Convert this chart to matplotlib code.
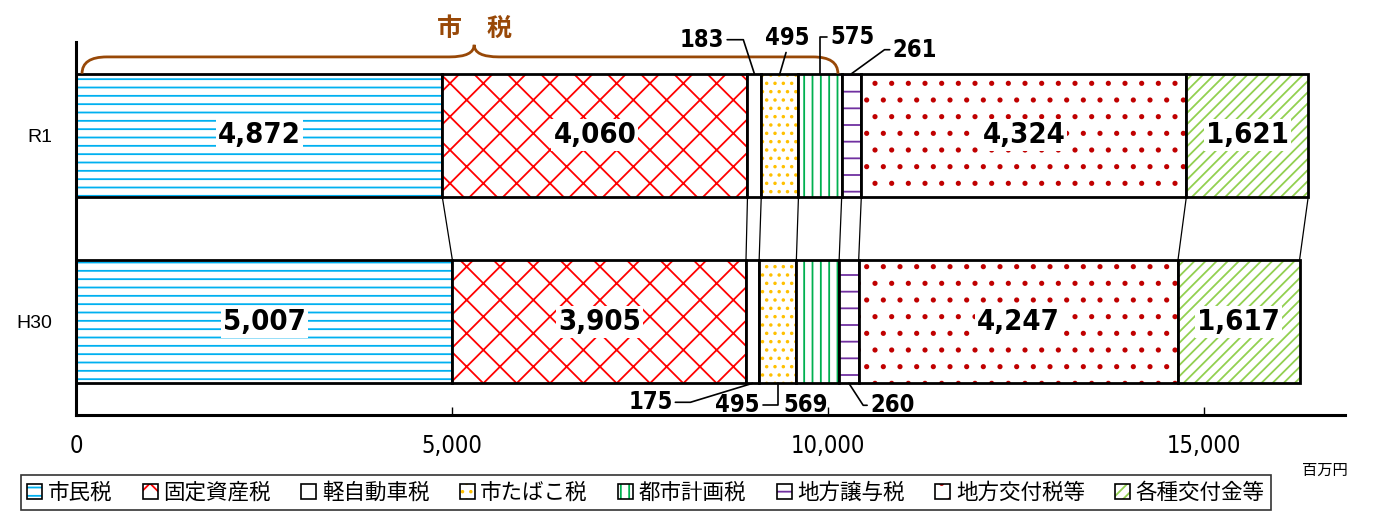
import numpy as np
import matplotlib.pyplot as plt
from matplotlib.path import Path
from matplotlib.patches import PathPatch, Patch

plt.rcParams['font.family'] = ['Noto Sans CJK JP', 'DejaVu Sans']
plt.rcParams['hatch.linewidth'] = 1.3

years = ['H30', 'R1']
items = ['市民税', '固定資産税', '軽自動車税', '市たばこ税', '都市計画税', '地方譲与税', '地方交付税等', '各種交付金等']
h30 = [5007, 3905, 175, 495, 569, 260, 4247, 1617]
r1 = [4872, 4060, 183, 495, 575, 261, 4324, 1621]
city_tax_count = 5  # first five items are 市税

colors = ['#00B0F0', '#FF0000', 'white', '#FFC000', '#00B050', '#7030A0', '#C00000', '#92D050']
hatches = ['--', 'x', '', '..', '||', '-', '.', '///']

numfont = dict(family='DejaVu Sans', fontstretch='condensed')

fig = plt.figure(figsize=(13.75, 5.22), dpi=100)
ax = fig.add_axes([76 / 1375, 1 - 415 / 522, (1345 - 76) / 1375, (415 - 42) / 522])

h = 0.66
rows = {0: h30, 1: r1}
for y, vals in rows.items():
    left = np.concatenate([[0], np.cumsum(vals)[:-1]])
    for i, v in enumerate(vals):
        ax.barh(y, v, left=left[i], height=h, color='white', edgecolor=colors[i],
                hatch=hatches[i], linewidth=0)
        ax.barh(y, v, left=left[i], height=h, fill=False, edgecolor='black', linewidth=2)
        if v > 1000:
            ax.text(left[i] + v / 2, y, f'{v:,}', ha='center', va='center', fontsize=21,
                    fontweight='bold', **numfont,
                    bbox=dict(fc='white', ec='none', pad=1.5))

# series lines between the two bars
cum_r1 = np.cumsum(r1)
cum_h30 = np.cumsum(h30)
for a, b in zip(cum_r1, cum_h30):
    ax.plot([a, b], [1 - h / 2, h / 2], color='black', lw=0.9)

# small labels with leader lines
r1_lbl = {2: ((-30, 34), 'right', (1, 0.5), 'angle,angleA=0,angleB=108,rad=0'),
          3: ((7, 36), 'center', (0.5, 0), 'arc3'),
          4: ((10, 37), 'left', (0, 0.5), 'angle,angleA=180,angleB=90,rad=0'),
          5: ((41, 24), 'left', (0, 0.5), 'angle,angleA=180,angleB=36,rad=0')}
h30_lbl = {2: ((-80, -19), 'right', (1, 0.5), 'angle,angleA=0,angleB=17,rad=0'),
           3: ((-18, -22), 'right', (1, 0.5), 'angle,angleA=0,angleB=90,rad=0'),
           4: ((-12, -22), 'center', None, None),
           5: ((21, -22), 'left', (0, 0.5), 'angle,angleA=180,angleB=-57,rad=0')}

for vals, cum, yy, lbls in [(r1, cum_r1, 1 + h / 2, r1_lbl), (h30, cum_h30, -h / 2, h30_lbl)]:
    for i, (off, ha, rel, cs) in lbls.items():
        mid = cum[i] - vals[i] / 2
        kw = {}
        if cs is not None:
            kw['arrowprops'] = dict(arrowstyle='-', lw=1.2, color='black', shrinkA=0,
                                    shrinkB=0, relpos=rel, connectionstyle=cs)
        ax.annotate(f'{vals[i]:,}', xy=(mid, yy), xytext=off, textcoords='offset pixels',
                    ha=ha, va='center', fontsize=17, fontweight='bold', **numfont,
                    annotation_clip=False, **kw)

# brace for 市税
x0, x1 = 80, cum_r1[city_tax_count - 1] - 50
xm = 0.52 * cum_r1[city_tax_count - 1]
yb, ym, yt = 1 + h / 2, 1.42, 1.485
r = 330
verts = [(x0, yb), (x0, ym), (x0 + r, ym),
         (xm - r, ym),
         (xm, ym), (xm, yt),
         (xm, ym), (xm + r, ym),
         (x1 - r, ym),
         (x1, ym), (x1, yb)]
codes = [Path.MOVETO, Path.CURVE3, Path.CURVE3,
         Path.LINETO,
         Path.CURVE3, Path.CURVE3,
         Path.CURVE3, Path.CURVE3,
         Path.LINETO,
         Path.CURVE3, Path.CURVE3]
ax.add_patch(PathPatch(Path(verts, codes), fill=False, edgecolor='#984807', lw=2, clip_on=False))
ax.text(xm, 1.57, '市\u3000税', ha='center', va='center', fontsize=18, fontweight='bold',
        color='#984807', clip_on=False)

ax.set_xlim(0, 16880)
ax.set_ylim(-0.5, 1.5)
ax.set_yticks([0, 1])
ax.set_yticklabels(years, fontsize=14, family=['Liberation Sans', 'DejaVu Sans'])
ax.tick_params(axis='y', length=0, pad=17)
ax.set_xticks([0, 5000, 10000, 15000])
ax.set_xticklabels([f'{t:,}' for t in [0, 5000, 10000, 15000]], fontsize=17, **numfont)
ax.tick_params(axis='x', direction='in', length=6, width=1, pad=14)
for s in ['top', 'right']:
    ax.spines[s].set_visible(False)
for s in ['left', 'bottom']:
    ax.spines[s].set_linewidth(2.2)

fig.text(1325 / 1375, 1 - 470 / 522, '百万円', ha='center', va='center', fontsize=11)

handles = [(Patch(facecolor='white', edgecolor=colors[i], hatch=hatches[i], lw=0),
            Patch(fill=False, edgecolor='black', lw=1.2)) for i in range(len(items))]
leg = fig.legend(handles, items, ncol=8, loc='lower left', bbox_to_anchor=(10 / 1375, 1 / 522),
                 fontsize=15.5, frameon=True, fancybox=False, edgecolor='black',
                 handlelength=0.7, handleheight=0.7, handletextpad=0.25, columnspacing=1.42,
                 borderpad=0.3)
leg.get_frame().set_linewidth(1.2)

fig.savefig('out.png', dpi=100)
